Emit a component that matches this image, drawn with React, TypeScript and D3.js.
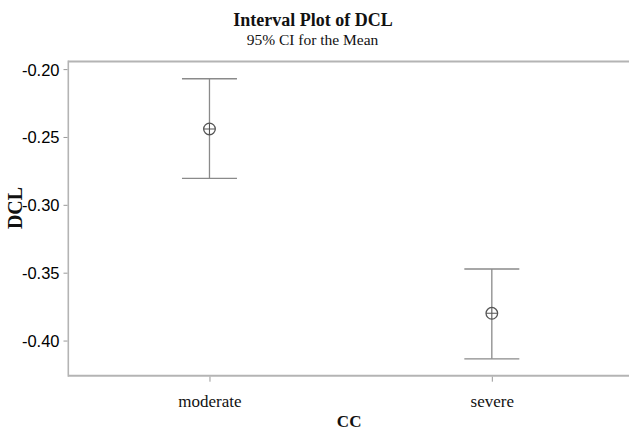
import React, { useEffect, useRef } from "react";
import * as d3 from "d3";

// CC groups and the DCL interval (95% CI for the mean)
const categories = ["moderate", "severe"];
const means = [-0.2441, -0.3799];
const upper = [-0.2071, -0.3473];
const lower = [-0.2805, -0.4135];
const yTicks = [-0.2, -0.25, -0.3, -0.35, -0.4];

const width = 629;
const height = 431;

function App() {
  const ref = useRef<SVGSVGElement>(null);

  useEffect(() => {
    var svg = d3.select(ref.current);
    svg.selectAll("*").remove();

    var margin = { left: 68.3, right: -4, top: 61.5, bottom: 55.3 };

    var x = d3
      .scalePoint()
      .domain(categories)
      .range([margin.left, width - margin.right])
      .padding(0.5);

    var y = d3
      .scaleLinear()
      .domain([-0.4259, -0.1944])
      .range([height - margin.bottom, margin.top]);

    // titles
    svg
      .append("text")
      .attr("x", 313)
      .attr("y", 26)
      .attr("text-anchor", "middle")
      .style("font-family", "'Liberation Serif', serif")
      .style("font-weight", "bold")
      .style("font-size", "18px")
      .style("fill", "#111")
      .text("Interval Plot of DCL");

    svg
      .append("text")
      .attr("x", 312.5)
      .attr("y", 45)
      .attr("text-anchor", "middle")
      .style("font-family", "'Liberation Serif', serif")
      .style("font-size", "15.5px")
      .style("fill", "#111")
      .text("95% CI for the Mean");

    // frame (left, top, bottom)
    var frame = "#b4b4b4";
    svg
      .append("line")
      .attr("x1", margin.left)
      .attr("x2", width + 5)
      .attr("y1", margin.top)
      .attr("y2", margin.top)
      .style("stroke", frame)
      .style("stroke-width", 2);
    svg
      .append("line")
      .attr("x1", margin.left)
      .attr("x2", width + 5)
      .attr("y1", height - margin.bottom)
      .attr("y2", height - margin.bottom)
      .style("stroke", frame)
      .style("stroke-width", 2);
    svg
      .append("line")
      .attr("x1", margin.left)
      .attr("x2", margin.left)
      .attr("y1", margin.top - 1)
      .attr("y2", height - margin.bottom + 1)
      .style("stroke", frame)
      .style("stroke-width", 1.6);

    // y axis (plain hyphen minus, as in the original)
    var fmt = d3.format(".2f");
    var yAxis = svg
      .append("g")
      .attr("transform", "translate(" + (margin.left - 0.8) + ",0)")
      .call(
        d3
          .axisLeft(y)
          .tickValues(yTicks)
          .tickSize(4)
          .tickPadding(4)
          .tickFormat(function (d: any) {
            return fmt(d).replace("\u2212", "-");
          })
      );
    yAxis.select(".domain").remove();
    yAxis.selectAll("line").style("stroke", "#999");
    yAxis
      .selectAll("text")
      .attr("dy", "0.36em")
      .style("font-family", "'Liberation Sans', Arial, sans-serif")
      .style("font-size", "16.5px")
      .style("fill", "#000");

    // x axis
    var xAxis = svg
      .append("g")
      .attr("transform", "translate(0," + (height - margin.bottom + 1) + ")")
      .call(d3.axisBottom(x).tickSize(5).tickPadding(13));
    xAxis.select(".domain").remove();
    xAxis.selectAll("line").style("stroke", "#999");
    xAxis
      .selectAll("text")
      .style("font-family", "'Liberation Serif', serif")
      .style("font-size", "17px")
      .style("fill", "#111");

    // axis titles
    svg
      .append("text")
      .attr("x", (margin.left + width) / 2 + 0.5)
      .attr("y", 427)
      .attr("text-anchor", "middle")
      .style("font-family", "'Liberation Serif', serif")
      .style("font-weight", "bold")
      .style("font-size", "17px")
      .style("fill", "#111")
      .text("CC");

    svg
      .append("text")
      .attr("transform", "translate(22,208) rotate(-90)")
      .attr("text-anchor", "middle")
      .style("font-family", "'Liberation Serif', serif")
      .style("font-weight", "bold")
      .style("font-size", "20px")
      .style("fill", "#111")
      .text("DCL");

    // interval bars
    var node = svg
      .selectAll(".interval")
      .data(categories)
      .enter()
      .append("g")
      .attr("class", "interval")
      .attr("transform", function (d: any) {
        return "translate(" + x(d) + ",0)";
      });

    var bar = "#8a8a8a";
    var capHalf = 27.5;

    node
      .append("line")
      .attr("x1", 0)
      .attr("x2", 0)
      .attr("y1", function (d: any, i: number) {
        return y(upper[i]);
      })
      .attr("y2", function (d: any, i: number) {
        return y(lower[i]);
      })
      .style("stroke", bar)
      .style("stroke-width", 1.3);

    [upper, lower].forEach(function (vals) {
      node
        .append("line")
        .attr("x1", -capHalf)
        .attr("x2", capHalf)
        .attr("y1", function (d: any, i: number) {
          return y(vals[i]);
        })
        .attr("y2", function (d: any, i: number) {
          return y(vals[i]);
        })
        .style("stroke", bar)
        .style("stroke-width", 1.3);
    });

    // mean symbol: circle with a cross
    var r = 5.8;
    node
      .append("circle")
      .attr("cy", function (d: any, i: number) {
        return y(means[i]);
      })
      .attr("r", r)
      .style("fill", "white")
      .style("stroke", "#555")
      .style("stroke-width", 1.3);
    node
      .append("path")
      .attr("d", function (d: any, i: number) {
        var cy = y(means[i]);
        return (
          "M" + -r + "," + cy + "H" + r + "M0," + (cy - r) + "V" + (cy + r)
        );
      })
      .style("stroke", "#555")
      .style("stroke-width", 1.1);
  }, []);

  return (
    <svg
      ref={ref}
      width={width}
      height={height}
      style={{ position: "absolute", left: 0, top: 0, background: "white" }}
    ></svg>
  );
}

export default App;
